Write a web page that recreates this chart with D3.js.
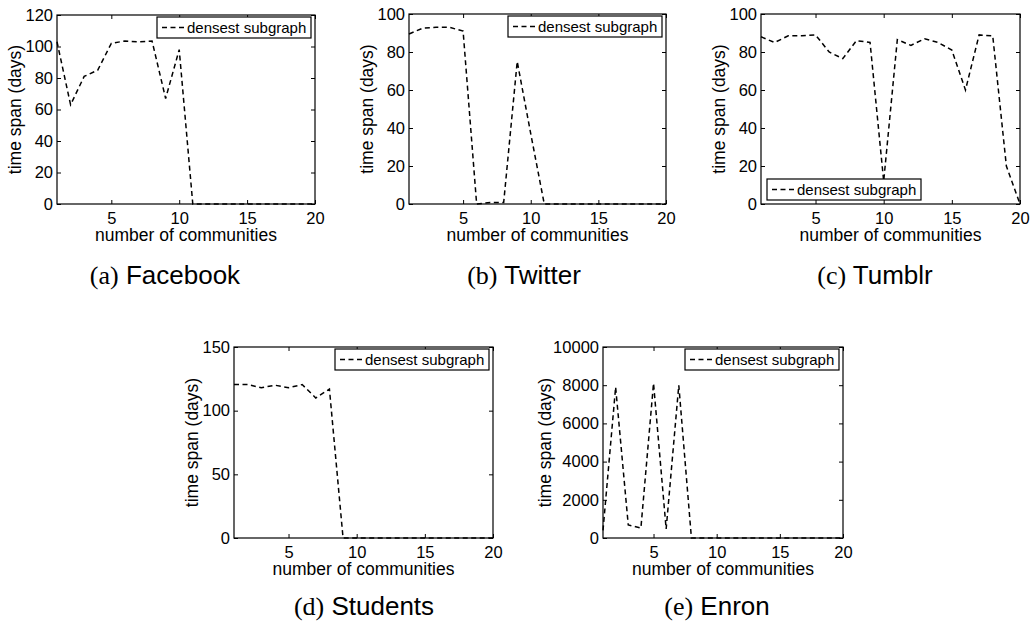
<!DOCTYPE html>
<html>
<head>
<meta charset="utf-8">
<script src="https://cdn.jsdelivr.net/npm/d3@7"></script>
<style>
  body { margin: 0; background: #fff; }
  svg { display: block; }
  text { font-family: "Liberation Sans", Arial, sans-serif; fill: #000; }
</style>
</head>
<body>
<svg></svg>
<script>
// number of communities (x axis)
const communities = [1, 2, 3, 4, 5, 6, 7, 8, 9, 10, 11, 12, 13, 14, 15, 16, 17, 18, 19, 20]

// time span (days) of the densest subgraph, per dataset
const facebook = [103, 63, 81, 85, 102, 103.5, 103, 103.5, 67, 98, 0, 0, 0, 0, 0, 0, 0, 0, 0, 0]
const twitter = [89.5, 92.5, 93, 93, 91, 0, 0.8, 0.8, 75, 37, 0, 0, 0, 0, 0, 0, 0, 0, 0, 0]
const tumblr = [88, 85, 88.5, 88.5, 89, 80, 76.5, 86, 85, 12, 86.5, 83.5, 87, 85, 81, 60, 89, 88.5, 20, 0]
const students = [120.5, 120.5, 118, 120, 118, 120.5, 110, 117, 0, 0, 0, 0, 0, 0, 0, 0, 0, 0, 0, 0]
const enron = [400, 7900, 680, 520, 8100, 470, 8000, 0, 0, 0, 0, 0, 0, 0, 0, 0, 0, 0, 0, 0]

// tick labels
const xTicks = [5, 10, 15, 20]
const yTicksA = [0, 20, 40, 60, 80, 100, 120]
const yTicksB = [0, 20, 40, 60, 80, 100]
const yTicksD = [0, 50, 100, 150]
const yTicksE = [0, 2000, 4000, 6000, 8000, 10000]

const xLabel = "number of communities"
const yLabel = "time span (days)"
const legendLabel = "densest subgraph"

const width = 1032
const height = 630
const svg = d3.select('svg')
    .attr("width", width)
    .attr("height", height)

const panels = [
    { key: "a", name: "Facebook", values: facebook, yMax: 120, yTicks: yTicksA,
      box: [57, 15, 315, 204], legend: "top", capX: 165, capY: 284 },
    { key: "b", name: "Twitter", values: twitter, yMax: 100, yTicks: yTicksB,
      box: [409, 14, 666, 204], legend: "top", capX: 524, capY: 284 },
    { key: "c", name: "Tumblr", values: tumblr, yMax: 100, yTicks: yTicksB,
      box: [761, 14, 1020, 204], legend: "bottom", capX: 875, capY: 284 },
    { key: "d", name: "Students", values: students, yMax: 150, yTicks: yTicksD,
      box: [234, 347, 493, 538], legend: "top", capX: 364, capY: 615 },
    { key: "e", name: "Enron", values: enron, yMax: 10000, yTicks: yTicksE,
      box: [603, 347, 843, 538], legend: "top", capX: 717, capY: 615 }
]

panels.forEach(p => tekenPaneel(p))

function tekenPaneel(p) {
    const [x0, y0, x1, y1] = p.box
    const g = svg.append('g')

    const x = d3.scaleLinear().domain([1, 20]).range([x0, x1])
    const y = d3.scaleLinear().domain([0, p.yMax]).range([y1, y0])

    // inward ticks on all four sides, MATLAB style
    const tickLen = 4
    g.append('g')
        .attr("transform", `translate(0,${y1})`)
        .call(d3.axisBottom(x).tickValues(xTicks).tickSizeInner(-tickLen).tickSizeOuter(0).tickPadding(8))
        .call(stijlAs)
    g.append('g')
        .attr("transform", `translate(0,${y0})`)
        .call(d3.axisTop(x).tickValues(xTicks).tickSizeInner(-tickLen).tickSizeOuter(0).tickFormat(""))
        .call(stijlAs)
    g.append('g')
        .attr("transform", `translate(${x0},0)`)
        .call(d3.axisLeft(y).tickValues(p.yTicks).tickFormat(d3.format("d"))
            .tickSizeInner(-tickLen).tickSizeOuter(0).tickPadding(4))
        .call(stijlAs)
    g.append('g')
        .attr("transform", `translate(${x1},0)`)
        .call(d3.axisRight(y).tickValues(p.yTicks).tickSizeInner(-tickLen).tickSizeOuter(0).tickFormat(""))
        .call(stijlAs)

    g.append('rect')
        .attr("x", x0).attr("y", y0)
        .attr("width", x1 - x0).attr("height", y1 - y0)
        .attr("fill", "none").attr("stroke", "#000").attr("stroke-width", 1.2)

    const lijn = d3.line()
        .x((d, i) => x(communities[i]))
        .y(d => y(d))

    g.append('path')
        .datum(p.values)
        .attr("d", lijn)
        .attr("fill", "none")
        .attr("stroke", "#000")
        .attr("stroke-width", 1.5)
        .attr("stroke-dasharray", "5,3.5")

    // axis labels
    g.append('text')
        .attr("x", (x0 + x1) / 2)
        .attr("y", y1 + 37)
        .attr("text-anchor", "middle")
        .attr("font-size", 17.5)
        .text(xLabel)

    const yLabelX = p.key === "e" ? x0 - 52 : x0 - 36
    g.append('text')
        .attr("transform", `translate(${yLabelX},${(y0 + y1) / 2}) rotate(-90)`)
        .attr("text-anchor", "middle")
        .attr("font-size", 17.5)
        .text(yLabel)

    // legend
    const lw = 154, lh = 21
    const lx = p.legend === "top" ? x1 - 4 - lw : x0 + 6
    const ly = p.legend === "top" ? y0 + 2 : y1 - 4 - lh
    const leg = g.append('g').attr("transform", `translate(${lx},${ly})`)
    leg.append('rect')
        .attr("width", lw).attr("height", lh)
        .attr("fill", "#fff").attr("stroke", "#000").attr("stroke-width", 1.2)
    leg.append('line')
        .attr("x1", 5).attr("x2", 28)
        .attr("y1", lh / 2).attr("y2", lh / 2)
        .attr("stroke", "#000").attr("stroke-width", 1.5)
        .attr("stroke-dasharray", "5,3.5")
    leg.append('text')
        .attr("x", 30).attr("y", lh / 2 + 5.5)
        .attr("font-size", 15)
        .text(legendLabel)

    // caption
    const cap = g.append('text')
        .attr("x", p.capX).attr("y", p.capY)
        .attr("text-anchor", "middle")
        .attr("font-size", 26)
    cap.append('tspan')
        .attr("font-family", "'Liberation Serif', 'DejaVu Serif', serif")
        .text(`(${p.key})`)
    cap.append('tspan')
        .text(" " + p.name)
}

function stijlAs(sel) {
    sel.select(".domain").remove()
    sel.selectAll(".tick line").attr("stroke", "#000").attr("stroke-width", 1)
    sel.selectAll(".tick text").attr("font-size", 16.5).attr("fill", "#000")
        .attr("font-family", "'Liberation Sans', Arial, sans-serif")
}
</script>
</body>
</html>
